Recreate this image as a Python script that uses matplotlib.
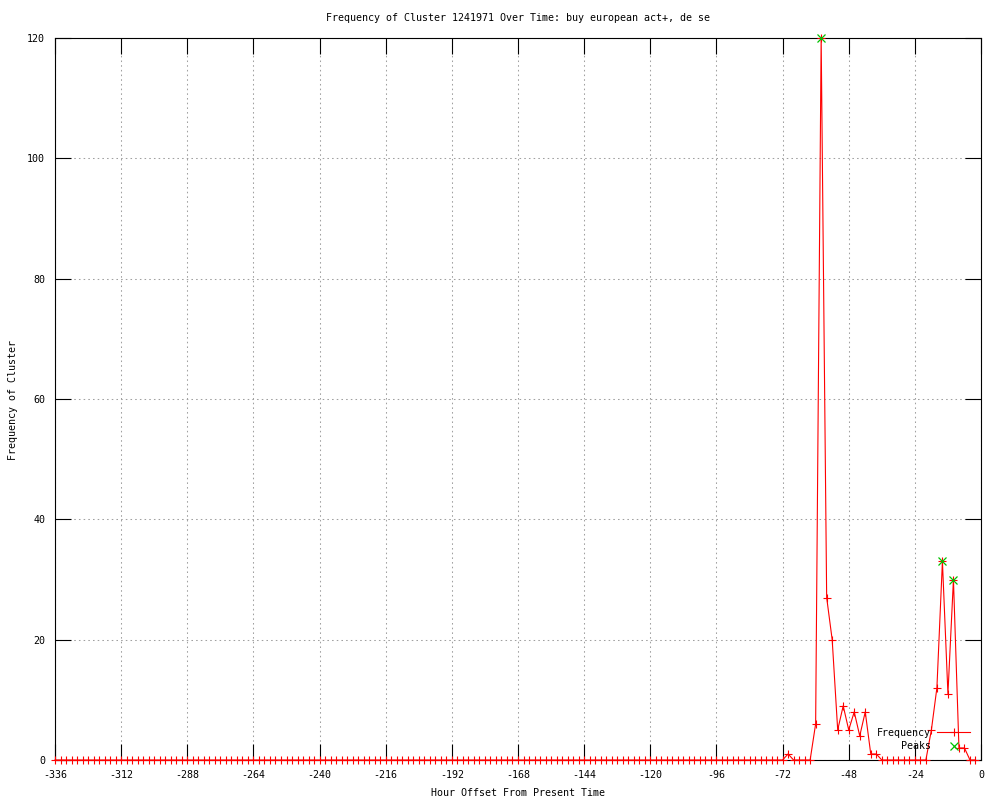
import matplotlib
matplotlib.use('Agg')
import matplotlib.pyplot as plt

# hours before now, one sample every 2 hours
hours = list(range(-336, 0, 2))
freq = [0] * 133 + [1, 0, 0, 0, 0, 6, 120, 27, 20, 5, 9, 5, 8, 4, 8, 1, 1,
                    0, 0, 0, 0, 0, 0, 0, 0, 0, 5, 12, 33, 11, 30, 2, 2, 0, 0]

peak_hours = [-58, -14, -10]
peak_vals = [120, 33, 30]

xticks = list(range(-336, 1, 24))
yticks = list(range(0, 121, 20))

title = "Frequency of Cluster 1241971 Over Time: buy european act+, de se"

plt.rcParams['font.family'] = ['DejaVu Sans Mono']
plt.rcParams['font.size'] = 7.2
plt.rcParams['axes.unicode_minus'] = False

fig = plt.figure(figsize=(10, 8), dpi=100)
ax = fig.add_axes([0.055, 0.05, 0.926, 0.9025])

l1, = ax.plot(hours, freq, color='red', lw=0.8, marker='+', ms=6, mew=0.8,
              zorder=3, clip_on=False)
l2, = ax.plot(peak_hours, peak_vals, ls='none', color='#00c000', marker='x',
              ms=5.5, mew=0.9, zorder=4, clip_on=False)

ax.set_xlim(-336, 0)
ax.set_ylim(0, 120)
ax.set_xticks(xticks)
ax.set_yticks(yticks)
ax.tick_params(direction='in', length=11.5, width=0.8, top=True, right=True,
               pad=7, colors='black')
ax.grid(True, color='#a0a0a0', ls=(0, (1.5, 3)), lw=0.75)
for s in ax.spines.values():
    s.set_linewidth(0.8)

# gnuplot style key: text right-aligned, sample to the right
kw = dict(loc='center right', bbox_transform=fig.transFigure, frameon=False,
          markerfirst=False, handlelength=3.3, handletextpad=0.6,
          borderpad=0, borderaxespad=0)
leg1 = ax.legend([l1], ['Frequency'], bbox_to_anchor=(0.970, 0.084), **kw)
ax.add_artist(leg1)
ax.legend([l2], ['Peaks'], bbox_to_anchor=(0.970, 0.0675), **kw)

fig.text(0.518, 1 - 18 / 800, title, ha='center', va='center')
fig.text(0.518, 1 - 793 / 800, 'Hour Offset From Present Time', ha='center', va='center')
fig.text(0.013, 0.5, 'Frequency of Cluster', rotation=90, ha='center', va='center')

fig.savefig('out.png', dpi=100)
